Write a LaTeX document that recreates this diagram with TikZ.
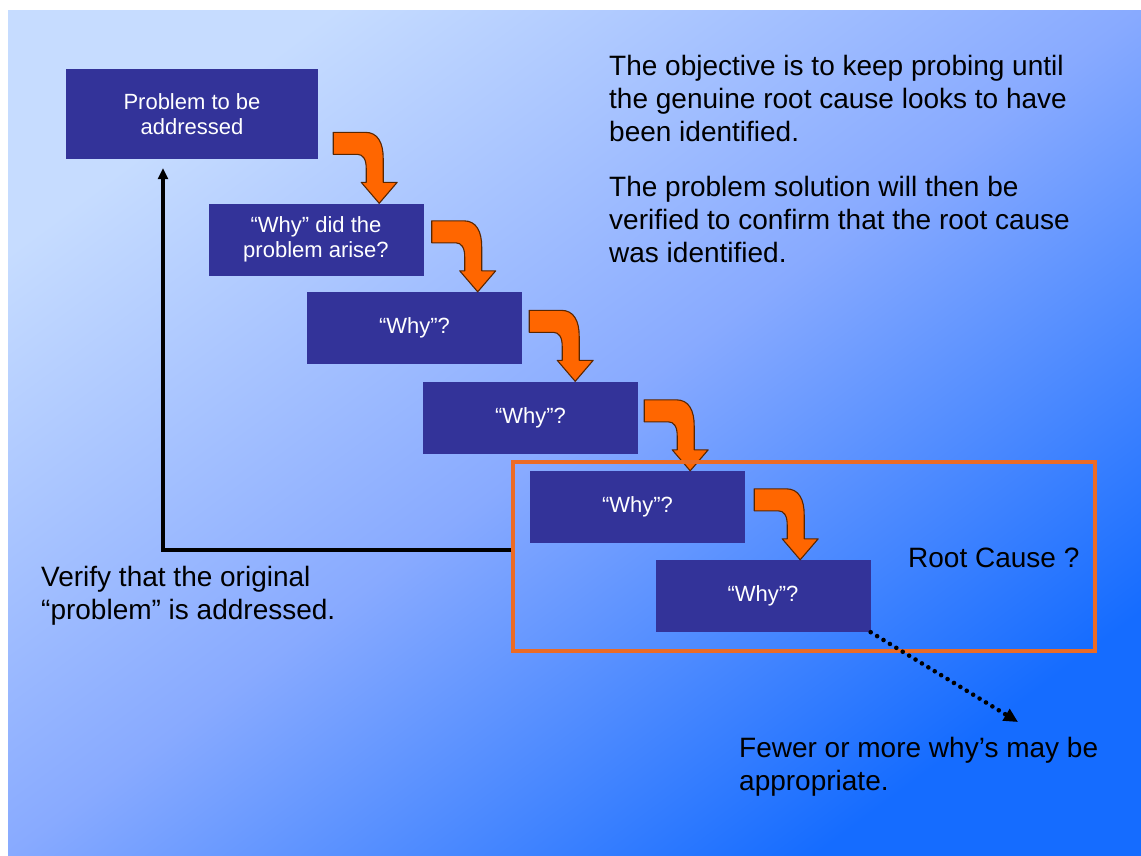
\documentclass[tikz,border=0pt]{standalone}
\usepackage{fontspec}
\setmainfont{Liberation Sans}
\usetikzlibrary{arrows.meta,calc}

\definecolor{bgTL}{HTML}{C6DCFF}
\definecolor{bgMid}{HTML}{88AAFF}
\definecolor{bgBR}{HTML}{156CFF}
\definecolor{whybox}{HTML}{333399}
\definecolor{rcorange}{HTML}{EC6B24}
\definecolor{bentfill}{HTML}{FF6600}
\definecolor{bentline}{HTML}{5A2600}

\tikzset{
  whystep/.style={fill=whybox, text=white, minimum width=215pt, minimum height=72pt,
    inner sep=0pt, align=center, font=\fontsize{22}{25}\selectfont},
  bodytext/.style={anchor=north west, inner sep=0pt, align=left,
    font=\fontsize{28}{33}\selectfont},
  bent/.style={fill=bentfill, draw=bentline, line width=1.1pt, line join=round},
  backlink/.style={line width=3.8pt, -{Triangle[length=11pt,width=10pt]}},
  morelink/.style={line width=4.6pt, line cap=round, dash pattern=on 0pt off 7.5pt,
    -{Triangle[length=14pt,width=13pt]}},
  rootframe/.style={draw=rcorange, line width=3.2pt, inner sep=0pt},
}

% curved block arrow from box #1 down onto the top of box #2;
% #3 = horizontal distance from the right side of #1 to the tip
\newcommand\bentarrow[3]{%
  \coordinate (bx) at ([xshift=#3pt]#1.east);
  \coordinate (tip-#2) at (bx |- #2.north);
  \begin{scope}[shift={(tip-#2)}]
    \path[bent] (0,0) -- (-18,-21) -- (-13,-21) -- (-13,-35)
      .. controls (-13,-44) and (-16,-49) .. (-22,-49) -- (-46,-49) -- (-46,-71)
      -- (-14,-71) .. controls (-1,-71) and (4,-60) .. (4,-45) -- (4,-21)
      -- (18,-21) -- cycle;
  \end{scope}}

\begin{document}
\begin{tikzpicture}[x=1pt,y=-1pt]
  \useasboundingbox (0,0) rectangle (1141,855);
  \fill[white] (0,0) rectangle (1141,855);
  \shade[top color=bgTL, bottom color=bgBR, middle color=bgMid, shading angle=36.7]
    (8,10) rectangle (1141,855);

  % the chain of questions
  \node[whystep, minimum width=252pt, minimum height=90pt] (p1) at (192,114) {Problem to be\\addressed};
  \node[whystep] (w2) at (316,239.5) {“Why” did the\\problem arise?};
  \node[whystep] (w3) at (414.5,328) {“Why”?};
  \node[whystep] (w4) at (530.5,417.5) {“Why”?};
  \node[whystep] (w5) at (637.5,507) {“Why”?};
  \node[whystep] (w6) at (763,596) {“Why”?};

  \bentarrow{p1}{w2}{61}
  \bentarrow{w2}{w3}{54}
  \bentarrow{w3}{w4}{53}
  \bentarrow{w4}{w5}{52}
  \bentarrow{w5}{w6}{55}

  % root cause frame
  \node[rootframe, minimum width=582pt, minimum height=189pt] (rc) at (804,556.5) {};
  \node[anchor=base west, inner sep=0pt, font=\fontsize{28}{33}\selectfont] (rclabel) at (908,567) {Root Cause ?};

  % verification loop back to the problem
  \draw[backlink] (rc.west |- 0,550) -| ([xshift=-29pt,yshift=-9pt]p1.south);

  % further questions
  \coordinate (moreend) at (1018,722);
  \draw[morelink] (w6.south east) -- (moreend);

  % notes
  \node[bodytext] (goal) at (609,55.5) {The objective is to keep probing until\\the genuine root cause looks to have\\been identified.};
  \node[bodytext] (check) at (609,176.5) {The problem solution will then be\\verified to confirm that the root cause\\was identified.};
  \node[bodytext] (verify) at (41,566.5) {Verify that the original\\“problem” is addressed.};
  \node[bodytext] (fewer) at (739,736.5) {Fewer or more why’s may be\\appropriate.};
\end{tikzpicture}
\end{document}
